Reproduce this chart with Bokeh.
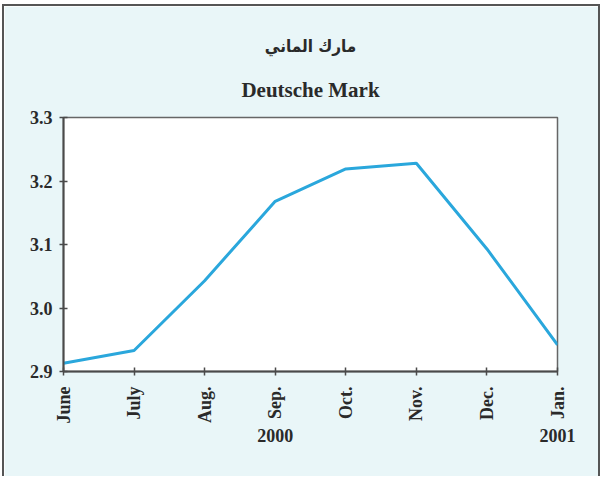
from bokeh.plotting import figure
from bokeh.models import Range1d, FixedTicker, LinearAxis, Title, PrintfTickFormatter
from bokeh.layouts import column
from bokeh.embed import file_html
from bokeh.resources import INLINE
import math

months = ["June", "July", "Aug.", "Sep.", "Oct.", "Nov.", "Dec.", "Jan."]
rates = [2.913, 2.933, 3.043, 3.168, 3.219, 3.228, 3.093, 2.942]
years = {3: "2000", 7: "2001"}
y_ticks = [2.9, 3.0, 3.1, 3.2, 3.3]
title_en = "Deutsche Mark"
title_ar = "مارك الماني"

x = list(range(len(months)))

BG = "#e9f6f8"
AX = "#4a4a4a"
FONT = "Liberation Serif"

p = figure(width=594, height=470, output_backend="svg", toolbar_location=None,
           x_range=Range1d(0, len(months) - 1), y_range=Range1d(2.9, 3.3),
           min_border_left=59, min_border_right=41, min_border_bottom=105, min_border_top=111)
p.background_fill_color = "white"
p.border_fill_color = BG
p.outline_line_color = "#666666"
p.outline_line_width = 1.5
p.xgrid.visible = False
p.ygrid.visible = False

p.title.text = title_ar
p.title.align = "center"
p.title.text_font = "DejaVu Sans Condensed"
p.title.text_font_size = "17px"
p.title.text_font_style = "bold"
p.title.text_color = "#2a2a2a"
p.title.standoff = 10

p.add_layout(Title(text=title_en, align="center", text_font=FONT,
                   text_font_size="21px", text_font_style="bold",
                   text_color="#2a2a2a", standoff=31), "above")

p.line(x, rates, line_color="#2aa7dc", line_width=3)

for ax in (p.xaxis[0], p.yaxis[0]):
    ax.axis_line_color = AX
    ax.axis_line_width = 2
    ax.major_tick_line_color = AX
    ax.major_tick_line_width = 1.5
    ax.major_tick_in = 4
    ax.major_tick_out = 4
    ax.minor_tick_line_color = None
    ax.major_label_text_font = FONT
    ax.major_label_text_font_style = "bold"
    ax.major_label_text_font_size = "18px"
    ax.major_label_text_color = "#2a2a2a"

p.xaxis[0].ticker = FixedTicker(ticks=x)
p.xaxis[0].major_label_overrides = {i: m for i, m in enumerate(months)}
p.xaxis[0].major_label_orientation = math.pi / 2
p.xaxis[0].major_label_standoff = 11

p.yaxis[0].ticker = FixedTicker(ticks=y_ticks)
p.yaxis[0].formatter = PrintfTickFormatter(format="%.1f")
p.yaxis[0].major_label_standoff = 7

yr = LinearAxis(ticker=FixedTicker(ticks=list(years.keys())),
                major_label_overrides=years,
                axis_line_color=None, major_tick_line_color=None,
                minor_tick_line_color=None, major_label_standoff=-4,
                major_label_text_font=FONT, major_label_text_font_style="bold",
                major_label_text_font_size="18px", major_label_text_color="#2a2a2a")
p.add_layout(yr, "below")

layout = column(p, styles={"border-left": "2px solid #555", "border-right": "2px solid #555",
                           "border-top": "2px solid #555", "margin-left": "2px",
                           "margin-top": "4px"})

open("out.html", "w").write(file_html(layout, INLINE))
